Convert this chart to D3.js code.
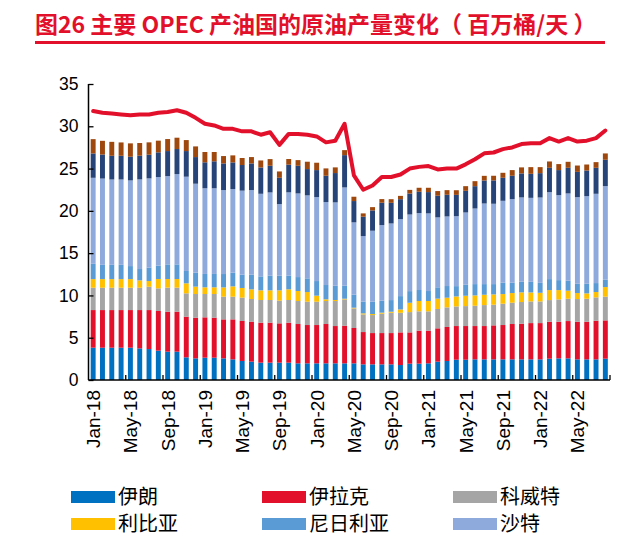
<!DOCTYPE html>
<html><head><meta charset="utf-8">
<script src="https://cdn.jsdelivr.net/npm/d3@7"></script>
<style>body{margin:0;background:#fff}</style>
</head><body><svg id="c" width="638" height="548"></svg>
<script>
const months=["Jan-18","Feb-18","Mar-18","Apr-18","May-18","Jun-18","Jul-18","Aug-18","Sep-18","Oct-18","Nov-18","Dec-18",
"Jan-19","Feb-19","Mar-19","Apr-19","May-19","Jun-19","Jul-19","Aug-19","Sep-19","Oct-19","Nov-19","Dec-19",
"Jan-20","Feb-20","Mar-20","Apr-20","May-20","Jun-20","Jul-20","Aug-20","Sep-20","Oct-20","Nov-20","Dec-20",
"Jan-21","Feb-21","Mar-21","Apr-21","May-21","Jun-21","Jul-21","Aug-21","Sep-21","Oct-21","Nov-21","Dec-21",
"Jan-22","Feb-22","Mar-22","Apr-22","May-22","Jun-22","Jul-22","Aug-22"];
const tickLabels=["Jan-18","May-18","Sep-18","Jan-19","May-19","Sep-19","Jan-20","May-20","Sep-20","Jan-21","May-21","Sep-21","Jan-22","May-22"];
const yTicks=[0,5,10,15,20,25,30,35];

const iran=[3.82,3.82,3.82,3.82,3.82,3.74,3.66,3.47,3.35,3.35,2.68,2.56,2.64,2.64,2.56,2.44,2.25,2.17,2.05,2.05,2.05,2.05,1.97,1.97,1.97,1.97,1.97,1.97,1.97,1.85,1.85,1.85,1.85,1.77,1.93,1.93,1.97,2.17,2.25,2.40,2.40,2.44,2.44,2.44,2.44,2.44,2.44,2.44,2.44,2.52,2.56,2.56,2.44,2.44,2.44,2.52];
const iraq=[4.45,4.45,4.45,4.45,4.45,4.53,4.61,4.69,4.73,4.73,4.81,4.81,4.77,4.73,4.61,4.73,4.73,4.73,4.73,4.73,4.65,4.73,4.65,4.53,4.53,4.65,4.41,4.45,4.18,3.82,3.70,3.70,3.70,3.86,3.70,3.90,3.86,3.94,4.02,3.98,3.98,3.94,3.94,4.02,4.06,4.18,4.22,4.29,4.29,4.37,4.33,4.41,4.45,4.45,4.57,4.53];
const kuwait=[2.64,2.64,2.64,2.64,2.64,2.64,2.76,2.68,2.84,2.84,2.76,2.80,2.76,2.80,2.68,2.68,2.76,2.68,2.68,2.68,2.68,2.68,2.72,2.76,2.76,2.72,2.96,3.11,2.32,2.09,2.13,2.29,2.40,2.32,2.40,2.29,2.29,2.29,2.32,2.32,2.36,2.40,2.48,2.44,2.52,2.52,2.56,2.56,2.56,2.56,2.64,2.64,2.68,2.72,2.76,2.80];
const libya=[1.02,1.02,1.02,1.02,1.02,0.87,0.67,1.10,1.02,1.02,1.18,0.87,0.79,0.79,1.10,1.22,1.14,1.14,1.14,1.14,1.22,1.26,1.18,1.14,0.71,0.20,0.12,0.08,0.08,0.12,0.12,0.12,0.12,0.39,1.10,1.22,1.22,1.22,1.14,1.18,1.22,1.22,1.22,1.22,1.14,1.14,1.14,1.06,1.02,1.18,1.10,0.95,0.71,0.63,0.63,1.14];
const nigeria=[1.81,1.69,1.69,1.69,1.54,1.34,1.58,1.58,1.73,1.73,1.46,1.65,1.58,1.58,1.58,1.62,1.58,1.73,1.65,1.73,1.73,1.62,1.65,1.62,1.73,1.69,1.69,1.54,1.54,1.38,1.46,1.42,1.38,1.58,1.38,1.30,1.18,1.34,1.38,1.22,1.30,1.34,1.26,1.22,1.34,1.22,1.26,1.26,1.18,1.30,1.18,1.18,1.10,1.14,1.06,0.87];
const saudi=[10.17,10.20,10.09,10.09,10.13,10.60,10.56,10.48,10.44,10.68,11.15,10.52,10.13,10.13,9.93,9.89,9.93,10.01,9.77,9.85,8.47,9.85,9.89,9.81,9.93,9.81,9.85,11.62,8.55,7.76,8.39,8.94,9.06,9.10,9.06,9.10,9.18,8.27,8.23,8.27,8.55,8.94,9.53,9.50,9.69,9.89,9.97,9.93,10.09,10.28,10.05,10.32,10.24,10.36,10.56,11.07];
const uae=[2.88,2.84,2.80,2.80,2.80,2.80,2.80,2.92,2.96,2.96,3.03,3.15,3.07,3.19,3.15,3.15,3.03,3.15,3.11,3.15,3.11,3.27,3.27,3.11,3.19,3.11,3.47,3.82,2.52,2.29,2.40,2.64,2.44,2.36,2.48,2.52,2.52,2.56,2.56,2.52,2.56,2.64,2.72,2.76,2.72,2.76,2.84,2.84,2.88,2.88,2.96,3.03,2.99,3.03,3.07,3.11];
const venezuela=[1.69,1.62,1.65,1.58,1.58,1.50,1.46,1.38,1.42,1.34,1.30,1.26,1.22,1.10,0.87,0.83,0.83,0.75,0.83,0.79,0.75,0.67,0.67,0.87,0.87,0.87,0.67,0.59,0.51,0.39,0.39,0.43,0.43,0.39,0.43,0.47,0.51,0.55,0.55,0.55,0.55,0.59,0.55,0.55,0.59,0.67,0.71,0.79,0.71,0.75,0.71,0.71,0.75,0.71,0.67,0.75];
const opecTotal=[31.8,31.6,31.5,31.4,31.3,31.4,31.4,31.6,31.7,31.9,31.6,31.0,30.3,30.1,29.7,29.7,29.4,29.4,29.0,29.3,27.8,29.1,29.1,29.0,28.8,28.1,28.3,30.3,24.2,22.5,23.0,24.0,24.0,24.3,25.0,25.2,25.3,24.9,25.0,25.0,25.5,26.1,26.8,26.9,27.3,27.5,27.9,28.0,28.0,28.6,28.2,28.6,28.2,28.3,28.6,29.5];

const seriesNames=["伊朗","伊拉克","科威特","利比亚","尼日利亚","沙特","阿联酋","委内瑞拉"];
const seriesValues=[iran,iraq,kuwait,libya,nigeria,saudi,uae,venezuela];
const seriesColors=["#0070C0","#E3102B","#A5A5A5","#FFC000","#5B9BD5","#8EA9DB","#264478","#9E480E"];
const legendNames=["伊朗","伊拉克","科威特","利比亚","尼日利亚","沙特"];

const svg=d3.select("#c");
const rows=months.map((m,i)=>{const r={month:m};seriesNames.forEach((s,k)=>r[s]=seriesValues[k][i]);return r;});
const stack=d3.stack().keys(seriesNames)(rows);

const x=d3.scaleBand().domain(months).range([88.5,610]).paddingInner(0.47).paddingOuter(0.235);
const y=d3.scaleLinear().domain([0,35]).range([380,84]);

const g=svg.append("g");
g.selectAll("g.s").data(stack).join("g").attr("fill",(d,i)=>seriesColors[i])
 .selectAll("rect").data(d=>d).join("rect")
 .attr("x",d=>x(d.data.month)).attr("width",x.bandwidth())
 .attr("y",d=>y(d[1])).attr("height",d=>Math.max(0,y(d[0])-y(d[1])));

// line
const line=d3.line().x((d,i)=>x(months[i])+x.bandwidth()/2).y(d=>y(d)).curve(d3.curveLinear);
svg.append("path").datum(opecTotal).attr("d",line).attr("fill","none")
 .attr("stroke","#E3102B").attr("stroke-width",4).attr("stroke-linejoin","round").attr("stroke-linecap","round");

// y axis
const ya=svg.append("g").attr("transform","translate(88.5,0)")
 .call(d3.axisLeft(y).tickValues(yTicks).tickSize(-5).tickPadding(10).tickFormat(d3.format("d")));
ya.select(".domain").attr("stroke","#000").attr("stroke-width",1.5).attr("d","M0,84V380");
ya.selectAll(".tick line").attr("stroke","#000").attr("stroke-width",1.3);
ya.selectAll("text").attr("font-family","Liberation Sans, Arial, sans-serif").attr("font-size",17.5).attr("fill","#000");

// x axis
const xa=svg.append("g").attr("transform","translate(0,380)")
 .call(d3.axisBottom(x).tickValues(tickLabels).tickSize(0));
xa.select(".domain").attr("stroke","#000").attr("stroke-width",1.5).attr("d","M88.5,0H610");
xa.selectAll(".tick text").attr("transform","rotate(-90)").attr("text-anchor","end")
 .attr("x",-10).attr("y",0).attr("dy","0.36em")
 .attr("font-family","Liberation Sans, Arial, sans-serif").attr("font-size",19).attr("fill","#000");
const off=(x.step()-x.bandwidth())/2;
const bounds=months.map((m,i)=>i).filter(i=>i>0&&i%4===0).map(i=>x(months[i])-off).concat([x.range()[1]]);
xa.selectAll("line.bt").data(bounds).join("line").attr("class","bt")
 .attr("x1",d=>d).attr("x2",d=>d).attr("y1",0).attr("y2",-5).attr("stroke","#000").attr("stroke-width",1.3);

// title
svg.append("text").attr("x",35).attr("y",33).attr("font-family","Noto Sans CJK SC, sans-serif")
 .attr("font-weight","bold").attr("font-size",23).attr("fill","#E3102B")
 .text("图26  主要 OPEC 产油国的原油产量变化（ 百万桶/天 ）");
svg.append("rect").attr("x",35).attr("y",41).attr("width",570).attr("height",3).attr("fill","#E3102B");

// legend
const lx=[71,262,453], ly=[497,524];
const lg=svg.append("g").selectAll("g").data(legendNames).join("g")
 .attr("transform",(d,i)=>`translate(${lx[i%3]},${ly[Math.floor(i/3)]})`);
lg.append("rect").attr("x",0).attr("y",-6).attr("width",44).attr("height",12).attr("fill",(d,i)=>seriesColors[i]);
lg.append("text").attr("x",47).attr("y",0).attr("dy","0.35em").attr("font-family","Noto Sans CJK SC, sans-serif")
 .attr("font-size",20).attr("fill","#000").text(d=>d);
</script></body></html>
